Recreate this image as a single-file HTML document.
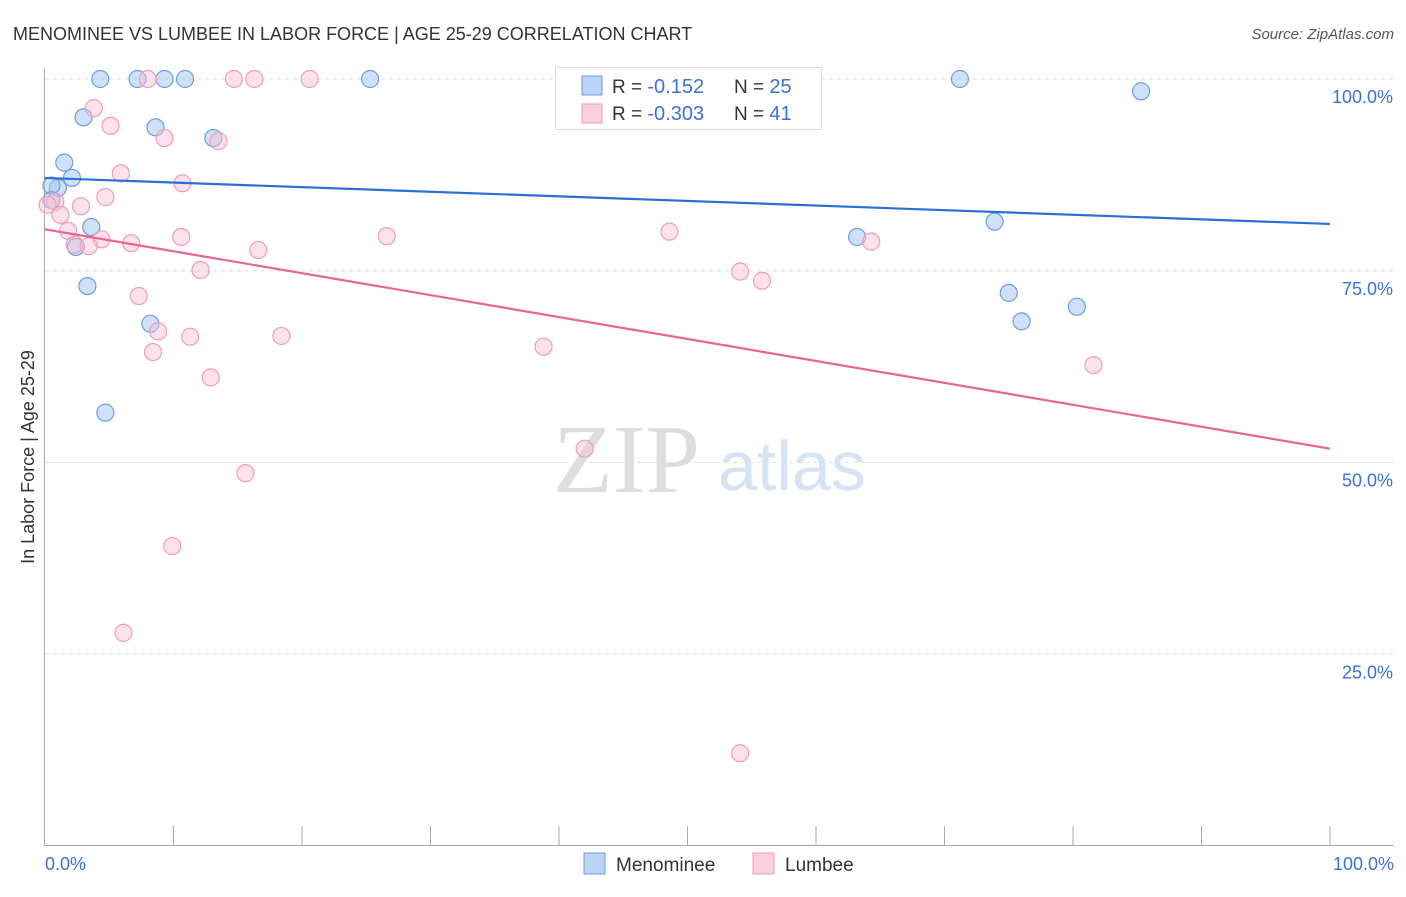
<!DOCTYPE html>
<html><head><meta charset="utf-8"><style>
body{margin:0;background:#fff;font-family:"Liberation Sans",sans-serif;}
</style></head><body>
<svg width="1406" height="892" font-family="Liberation Sans, sans-serif">
<text x="13" y="40" font-size="18" fill="#333">MENOMINEE VS LUMBEE IN LABOR FORCE | AGE 25-29 CORRELATION CHART</text>
<text x="1394" y="39" font-size="15" fill="#555" font-style="italic" text-anchor="end">Source: ZipAtlas.com</text>
<g id="grid"></g>
<text x="553" y="492" font-size="98" fill="#ddd" style="font-family:'Liberation Serif',serif">ZIP</text>
<text x="718" y="490" font-size="70" fill="#d5e3f5">atlas</text>
<g id="axes"></g>
<g id="points"></g>
<g id="trends"></g>
<text x="34" y="457" font-size="18" fill="#333" transform="rotate(-90 34 457)" text-anchor="middle">In Labor Force | Age 25-29</text>
<text x="45" y="870" font-size="18" fill="#3b73d1">0.0%</text>
<text x="1394" y="870" font-size="18" fill="#3b73d1" text-anchor="end">100.0%</text>
<g>
<rect x="555.5" y="67.5" width="266" height="62" fill="#fff" stroke="#ddd"/>
<rect x="582" y="76" width="20" height="19" fill="#bcd4f5" stroke="#6d9de0"/>
<rect x="582" y="104" width="20" height="19" fill="#fbd0dd" stroke="#ee9db6"/>
<text x="612" y="93" font-size="19" fill="#333">R = <tspan fill="#3b73d1" font-size="20"> -0.152</tspan><tspan x="734">N = </tspan><tspan fill="#3b73d1" font-size="20">25</tspan></text>
<text x="612" y="120" font-size="19" fill="#333">R = <tspan fill="#3b73d1" font-size="20">-0.303</tspan><tspan x="734">N = </tspan><tspan fill="#3b73d1" font-size="20"> 41</tspan></text>
</g>
<g>
<rect x="584" y="853" width="21" height="21" fill="#bcd4f5" stroke="#6d9de0"/>
<text x="616" y="871" font-size="19" fill="#333">Menominee</text>
<rect x="753" y="853" width="21" height="21" fill="#fbd0dd" stroke="#ee9db6"/>
<text x="785" y="871" font-size="19" fill="#333">Lumbee</text>
</g>
</svg>
<script>
const yTicks=[100,75,50,25];
const yTickLabels=["100.0%","75.0%","50.0%","25.0%"];
const menX=[4.3,7.2,9.3,10.9,25.3,71.2,85.3,3.0,8.6,13.1,1.5,2.1,1.0,0.5,0.5,3.6,2.4,3.3,8.2,4.7,63.2,73.9,75.0,76.0,80.3];
const menY=[100,100,100,100,100,100,98.4,95.0,93.7,92.3,89.1,87.1,85.8,86.1,84.2,80.7,78.1,73.0,68.1,56.5,79.4,81.4,72.1,68.4,70.3];
const lumX=[8.0,14.7,16.3,20.6,3.8,5.1,9.3,13.5,5.9,10.7,4.7,2.8,0.8,0.2,1.2,1.8,4.4,6.7,2.3,3.4,10.6,16.6,26.6,48.6,12.1,54.1,55.8,64.3,7.3,8.8,11.3,18.4,8.4,38.8,12.9,81.6,42.0,15.6,9.9,6.1,54.1];
const lumY=[100,100,100,100,96.2,93.9,92.3,91.9,87.7,86.4,84.6,83.4,84.0,83.6,82.3,80.2,79.1,78.6,78.4,78.2,79.4,77.7,79.5,80.1,75.1,74.9,73.7,78.8,71.7,67.1,66.4,66.5,64.4,65.1,61.1,62.7,51.8,48.6,39.1,27.8,12.1];
const menTrend=[87.1,81.1];
const lumTrend=[80.4,51.8];
const NS="http://www.w3.org/2000/svg";
const xs=v=>45+v*12.85;
const ys=v=>846-v*7.67;
function mk(tag,attrs,parent){const e=document.createElementNS(NS,tag);for(const k in attrs)e.setAttribute(k,attrs[k]);document.getElementById(parent).appendChild(e);return e;}
yTicks.forEach((t,i)=>{
 const l=mk('line',{x1:45,x2:1394,y1:ys(t),y2:ys(t),stroke:'#ddd','stroke-dasharray':'4 4'},'grid');
 
 
 const tx=mk('text',{x:1393,y:ys(t)+24,'font-size':18,fill:'#3b73d1','text-anchor':'end'},'grid');
 tx.textContent=yTickLabels[i];
 
 
});
const ax=mk('line',{x1:44.5,x2:44.5,y1:68,y2:846,stroke:'#aaa'},'axes');


const bx=mk('line',{x1:44,x2:1394,y1:845.5,y2:845.5,stroke:'#aaa'},'axes');


for(let i=1;i<=10;i++){
 const t=mk('line',{x1:xs(i*10),x2:xs(i*10),y1:826,y2:846,stroke:'#aaa'},'axes');
 
 
}
menX.forEach((x,i)=>{
 const c=mk('circle',{cx:xs(x),cy:ys(menY[i]),r:8.5,fill:'rgba(160,195,240,0.5)',stroke:'#6d9de0','stroke-width':1.2},'points');
 
 
});
lumX.forEach((x,i)=>{
 const c=mk('circle',{cx:xs(x),cy:ys(lumY[i]),r:8.5,fill:'rgba(250,190,210,0.45)',stroke:'#ee9db6','stroke-width':1.2},'points');
 
 
});
const t1=mk('line',{x1:xs(0),x2:xs(100),y1:ys(menTrend[0]),y2:ys(menTrend[1]),stroke:'#2a6fd6','stroke-width':2.2},'trends');


const t2=mk('line',{x1:xs(0),x2:xs(100),y1:ys(lumTrend[0]),y2:ys(lumTrend[1]),stroke:'#e8668f','stroke-width':2.2},'trends');


</script>
</body></html>
